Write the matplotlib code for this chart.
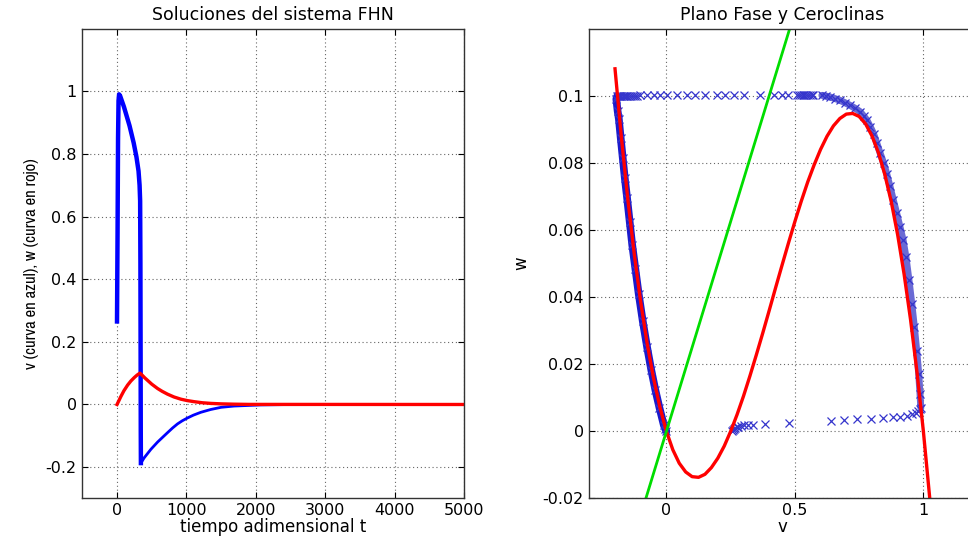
import numpy as np
import matplotlib
matplotlib.use("Agg")
import matplotlib.pyplot as plt
from matplotlib import font_manager
from matplotlib.ticker import FuncFormatter

# ---- left panel: v(t) and w(t) ----
t_fast = [0, 8, 15, 22, 30, 45, 100, 180, 240, 280, 310, 325, 333, 337, 340, 342, 344]
v_fast = [0.265, 0.55, 0.85, 0.97, 0.99, 0.985, 0.95, 0.89, 0.835, 0.79, 0.745, 0.70, 0.65, 0.45, 0.15, -0.08, -0.187]

t_slow = [344, 392, 488, 584, 660, 727, 800, 871, 940, 1015, 1100, 1206, 1349, 1500, 1684, 2067, 2400, 5000]
v_slow = [-0.187, -0.170, -0.143, -0.120, -0.104, -0.090, -0.075, -0.062, -0.052, -0.043, -0.034, -0.025,
          -0.016, -0.009, -0.005, -0.0015, -0.0005, 0.0]

t_w = [0, 20, 57, 100, 153, 200, 249, 290, 330, 360, 400, 440, 500, 584, 650, 727, 820, 919,
       1010, 1110, 1230, 1349, 1500, 1684, 1900, 5000]
w_t = [0.0, 0.009, 0.026, 0.044, 0.062, 0.075, 0.086, 0.094, 0.100, 0.094, 0.085, 0.077, 0.065, 0.051,
       0.042, 0.033, 0.024, 0.017, 0.0125, 0.009, 0.0055, 0.0035, 0.002, 0.001, 0.0003, 0.0]

# ---- right panel: nullclines ----
nc_v = [-0.200, -0.175, -0.150, -0.125, -0.100, -0.075, -0.050, -0.025, 0.000, 0.025, 0.050, 0.075,
        0.100, 0.125, 0.150, 0.175, 0.200, 0.225, 0.250, 0.275, 0.300, 0.325, 0.350, 0.375, 0.400,
        0.425, 0.450, 0.475, 0.500, 0.525, 0.550, 0.575, 0.600, 0.625, 0.650, 0.675, 0.700, 0.725,
        0.750, 0.775, 0.800, 0.825, 0.850, 0.875, 0.900, 0.925, 0.950, 0.975, 1.000, 1.030]
nc_w = [0.1080, 0.0874, 0.0690, 0.0527, 0.0385, 0.0262, 0.0158, 0.0071, 0.0, -0.0055, -0.0095, -0.0121,
        -0.0135, -0.0137, -0.0128, -0.0108, -0.0080, -0.0044, 0.0, 0.0050, 0.0105, 0.0165, 0.0228, 0.0293,
        0.0360, 0.0428, 0.0495, 0.0561, 0.0625, 0.0686, 0.0743, 0.0794, 0.0840, 0.0879, 0.0910, 0.0932,
        0.0945, 0.0947, 0.0938, 0.0916, 0.0880, 0.0830, 0.0765, 0.0684, 0.0585, 0.0468, 0.0333, 0.0177,
        0.0, -0.0241]

green_v = [-0.08, 0.48]
green_w = [-0.02, 0.12]

# ---- right panel: trajectory (markers) ----
jump_r_v = [0.255, 0.258, 0.262, 0.267, 0.273, 0.280, 0.290, 0.303, 0.318, 0.336, 0.382, 0.479,
            0.640, 0.692, 0.743, 0.796, 0.842, 0.881, 0.910, 0.935, 0.955, 0.970, 0.980, 0.985]
jump_r_w = [0.0, 0.0003, 0.0006, 0.0009, 0.0012, 0.0014, 0.0016, 0.0018, 0.0019, 0.0020, 0.0021, 0.0026,
            0.0032, 0.0034, 0.0036, 0.0038, 0.0040, 0.0042, 0.0044, 0.0047, 0.0051, 0.0056, 0.0062, 0.0068]

right_v = [0.990, 0.987, 0.982, 0.974, 0.965, 0.955, 0.944, 0.932, 0.921, 0.909, 0.896, 0.883, 0.870, 0.857,
           0.845, 0.832, 0.819, 0.806, 0.793, 0.780, 0.767, 0.754, 0.735, 0.715, 0.695, 0.676, 0.657, 0.637,
           0.620, 0.605]
right_w = [0.0070, 0.0110, 0.0170, 0.0240, 0.0310, 0.0380, 0.0450, 0.0520, 0.0570, 0.0609, 0.0650, 0.0689,
           0.0730, 0.0768, 0.0800, 0.0828, 0.0858, 0.0887, 0.0908, 0.0927, 0.0940, 0.0952, 0.0962, 0.0971,
           0.0979, 0.0986, 0.0991, 0.0996, 0.0999, 0.1001]

jump_l_v = [0.572, 0.565, 0.558, 0.551, 0.544, 0.537, 0.530, 0.523, 0.516, 0.508, 0.475, 0.450, 0.417,
            0.365, 0.300, 0.262, 0.229, 0.197, 0.152, 0.113, 0.080, 0.041, 0.003, -0.023, -0.049, -0.075,
            -0.101, -0.114, -0.122, -0.130, -0.138, -0.145, -0.152, -0.158, -0.164, -0.170, -0.175, -0.180,
            -0.184, -0.188]
jump_l_w = [0.1002] * 10 + [0.1001] * 17 + [0.1000] * 13

left_v = [-0.192, -0.195, -0.190, -0.185, -0.178, -0.170, -0.162, -0.153, -0.143, -0.133, -0.121, -0.108,
          -0.092, -0.075, -0.059, -0.043, -0.027, -0.010, -0.004, 0.0]
left_w = [0.0998, 0.0990, 0.0955, 0.0930, 0.0875, 0.0815, 0.0755, 0.0695, 0.0625, 0.0555, 0.0485, 0.0410,
          0.0328, 0.0250, 0.0183, 0.0123, 0.0070, 0.0018, 0.0006, 0.0]

plt.rcParams["font.family"] = ["DejaVu Sans"]
plt.rcParams["font.size"] = 12

# narrow font for the rotated y label, if one is installed
narrow = [f.name for f in font_manager.fontManager.ttflist
          if "Narrow" in f.name or "Condensed" in f.name]
if narrow:
    ylab_font, ylab_size = narrow[0], 12
else:
    ylab_font, ylab_size = "Liberation Sans", 10

fig = plt.figure(figsize=(9.68, 5.36), dpi=100)
ax1 = fig.add_axes([0.0850, 0.0700, 0.3946, 0.8768])
ax2 = fig.add_axes([0.6088, 0.0700, 0.3982, 0.8768])

fmt = FuncFormatter(lambda x, pos: "%g" % round(x, 6))


def matlab_style(ax):
    ax.grid(True, color="#666666", linestyle=(0, (1, 2.5)), linewidth=0.8)
    ax.set_axisbelow(True)
    ax.tick_params(direction="in", top=True, right=True, length=4, width=0.8, labelsize=11.5)
    ax.tick_params(axis="x", pad=3)
    ax.tick_params(axis="y", pad=4)
    for sp in ax.spines.values():
        sp.set_color("#333333")
        sp.set_linewidth(1.0)
    ax.xaxis.set_major_formatter(fmt)
    ax.yaxis.set_major_formatter(fmt)


# left panel
ax1.plot(t_slow, v_slow, color="b", lw=2.0)
ax1.plot(t_fast, v_fast, color="b", lw=3.2, solid_joinstyle="round")
ax1.plot(t_w, w_t, color="r", lw=2.4)
ax1.set_xlim(-500, 5000)
ax1.set_ylim(-0.3, 1.2)
ax1.set_xticks(np.arange(0, 5001, 1000))
ax1.set_yticks(np.arange(-0.2, 1.01, 0.2))
matlab_style(ax1)
ax1.set_title("Soluciones del sistema FHN", fontsize=12.5, pad=6)
ax1.set_xlabel("tiempo adimensional t", fontsize=12, labelpad=0)
ax1.set_ylabel("v (curva en azul), w (curva en rojo)", fontsize=ylab_size, labelpad=5,
               family=ylab_font)

# right panel
ax2.plot(left_v, left_w, color="#1a1acc", lw=5.5, solid_capstyle="round")
ax2.plot(right_v, right_w, color="#6a6ad4", lw=5.0, solid_capstyle="round")
for vv, ww in [(left_v, left_w), (right_v, right_w), (jump_r_v, jump_r_w), (jump_l_v, jump_l_w)]:
    ax2.plot(vv, ww, ls="none", marker="x", ms=6, mew=0.9, color="#3535cc")
ax2.plot(nc_v, nc_w, color="r", lw=2.4)
ax2.plot(green_v, green_w, color="#00dd00", lw=2.0)
ax2.set_xlim(-0.3, 1.2)
ax2.set_ylim(-0.02, 0.12)
ax2.set_xticks([0, 0.5, 1])
ax2.set_yticks(np.arange(-0.02, 0.101, 0.02))
matlab_style(ax2)
ax2.set_title("Plano Fase y Ceroclinas", fontsize=12.5, pad=6)
ax2.set_xlabel("v", fontsize=12, labelpad=0)
ax2.set_ylabel("w", fontsize=12, labelpad=9)

fig.savefig("out.png", dpi=100)
